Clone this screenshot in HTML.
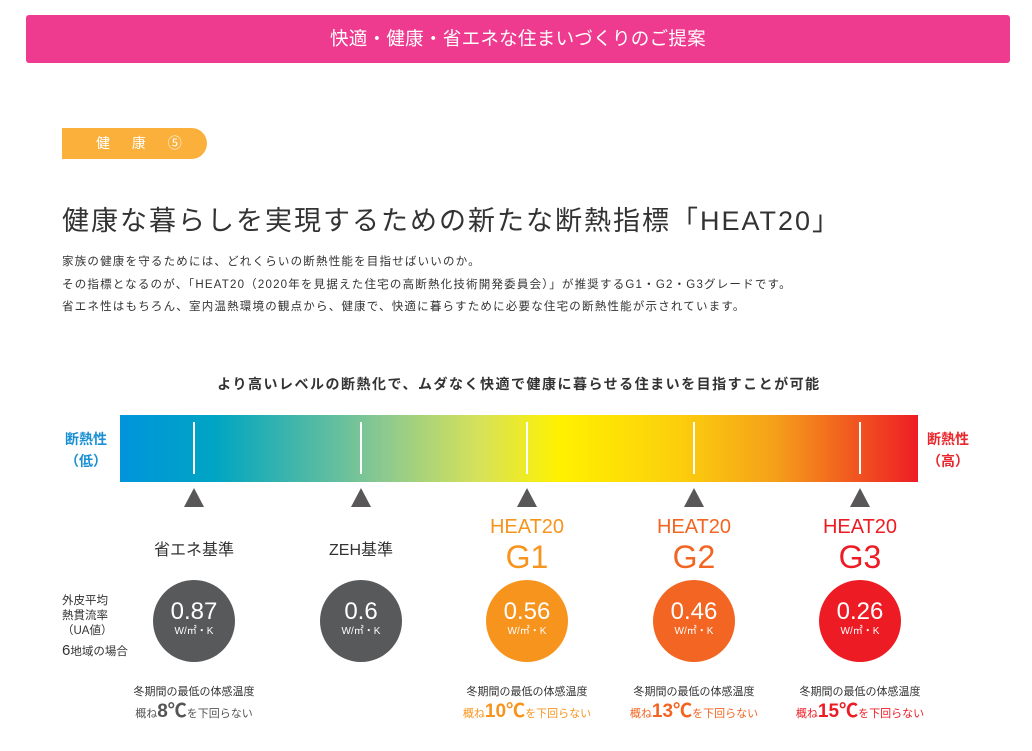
<!DOCTYPE html><html><head><meta charset="utf-8"><style>
*{margin:0;padding:0;box-sizing:border-box}
body{width:1032px;height:751px;background:#fff;position:relative;font-family:"Liberation Sans","Noto Sans CJK JP",sans-serif;color:#333;overflow:hidden}
.a{position:absolute;white-space:nowrap}
.c{position:absolute;transform:translateX(-50%);text-align:center;white-space:nowrap}
.circ{position:absolute;width:82px;height:82px;border-radius:50%;color:#fff;text-align:center;transform:translateX(-50%)}
.circ b{display:block;font-weight:normal;font-size:24px;margin-top:19px;line-height:26px}
.circ i{display:block;font-style:normal;font-size:10px;line-height:13px}
.tri{position:absolute;width:0;height:0;border-left:10px solid transparent;border-right:10px solid transparent;border-bottom:19px solid #595757;transform:translateX(-50%);top:488px}
.ln{position:absolute;top:422px;width:2px;height:52px;background:#fff}
.s1{font-size:11px;top:683px;color:#333}
.s2{font-size:11px;top:696px}
.s2 span{font-size:19px;font-weight:bold}
</style></head><body>
<div class="a" style="left:26px;top:15px;width:984px;height:48px;background:#ee3a8f;border-radius:3px;color:#fff;font-size:18.5px;text-align:center;line-height:48px;letter-spacing:0.3px">快適・健康・省エネな住まいづくりのご提案</div>
<div class="a" style="left:62px;top:128px;width:145px;height:31px;background:#fbb03b;border-radius:0 16px 16px 0;color:#fff;font-size:14px;line-height:31px;padding-left:34px;letter-spacing:9px">健 康 ⑤</div>
<div class="a" style="left:62px;top:199px;font-size:27px;letter-spacing:2px;color:#333">健康な暮らしを実現するための新たな断熱指標「HEAT20」</div>
<div class="a" style="left:62px;top:251px;font-size:11.5px;line-height:22.5px;letter-spacing:1.2px;color:#333">家族の健康を守るためには、どれくらいの断熱性能を目指せばいいのか。<br>その指標となるのが、「HEAT20（2020年を見据えた住宅の高断熱化技術開発委員会）」が推奨するG1・G2・G3グレードです。<br>省エネ性はもちろん、室内温熱環境の観点から、健康で、快適に暮らすために必要な住宅の断熱性能が示されています。</div>
<div class="c" style="left:519px;top:374px;font-size:14px;font-weight:bold;letter-spacing:1.5px;color:#333">より高いレベルの断熱化で、ムダなく快適で健康に暮らせる住まいを目指すことが可能</div>
<div class="a" style="left:120px;top:415px;width:798px;height:67px;background:linear-gradient(90deg,#0094dc 0%,#00a5c3 12%,#8bc98f 33%,#d6e25a 45%,#fff100 55%,#fccf0c 70%,#f5a01a 82%,#ee1c24 100%)"></div>
<div class="ln" style="left:193px"></div><div class="ln" style="left:360px"></div><div class="ln" style="left:526px"></div><div class="ln" style="left:693px"></div><div class="ln" style="left:859px"></div>
<div class="c" style="left:86px;top:428px;font-size:14px;font-weight:bold;color:#1a8fd3;line-height:22px">断熱性<br>（低）</div>
<div class="c" style="left:948px;top:428px;font-size:14px;font-weight:bold;color:#e8262c;line-height:22px">断熱性<br>（高）</div>
<div class="tri" style="left:194px"></div><div class="tri" style="left:361px"></div><div class="tri" style="left:527px"></div><div class="tri" style="left:694px"></div><div class="tri" style="left:860px"></div>
<div class="c" style="left:194px;top:536px;font-size:16px">省エネ基準</div>
<div class="c" style="left:361px;top:536px;font-size:16px">ZEH基準</div>
<div class="c" style="left:527px;top:514px;color:#f7941d;line-height:26px"><div style="font-size:20px">HEAT20</div><div style="font-size:32px;line-height:34px">G1</div></div>
<div class="c" style="left:694px;top:514px;color:#f26522;line-height:26px"><div style="font-size:20px">HEAT20</div><div style="font-size:32px;line-height:34px">G2</div></div>
<div class="c" style="left:860px;top:514px;color:#ed1c24;line-height:26px"><div style="font-size:20px">HEAT20</div><div style="font-size:32px;line-height:34px">G3</div></div>
<div class="a" style="left:62px;top:594px;font-size:11.5px;line-height:15px">外皮平均<br>熱貫流率<br>（UA値）<br><span style="font-size:15px;line-height:24px">6</span>地域の場合</div>
<div class="circ" style="left:194px;top:580px;background:#58595b"><b>0.87</b><i>W/㎡・K</i></div>
<div class="circ" style="left:361px;top:580px;background:#58595b"><b>0.6</b><i>W/㎡・K</i></div>
<div class="circ" style="left:527px;top:580px;background:#f7941d"><b>0.56</b><i>W/㎡・K</i></div>
<div class="circ" style="left:694px;top:580px;background:#f26522"><b>0.46</b><i>W/㎡・K</i></div>
<div class="circ" style="left:860px;top:580px;background:#ed1c24"><b>0.26</b><i>W/㎡・K</i></div>
<div class="c s1" style="left:194px">冬期間の最低の体感温度</div>
<div class="c s1" style="left:527px">冬期間の最低の体感温度</div>
<div class="c s1" style="left:694px">冬期間の最低の体感温度</div>
<div class="c s1" style="left:860px">冬期間の最低の体感温度</div>
<div class="c s2" style="left:194px;color:#555">概ね<span>8℃</span>を下回らない</div>
<div class="c s2" style="left:527px;color:#f7941d">概ね<span>10℃</span>を下回らない</div>
<div class="c s2" style="left:694px;color:#f26522">概ね<span>13℃</span>を下回らない</div>
<div class="c s2" style="left:860px;color:#ed1c24">概ね<span>15℃</span>を下回らない</div>
</body></html>
